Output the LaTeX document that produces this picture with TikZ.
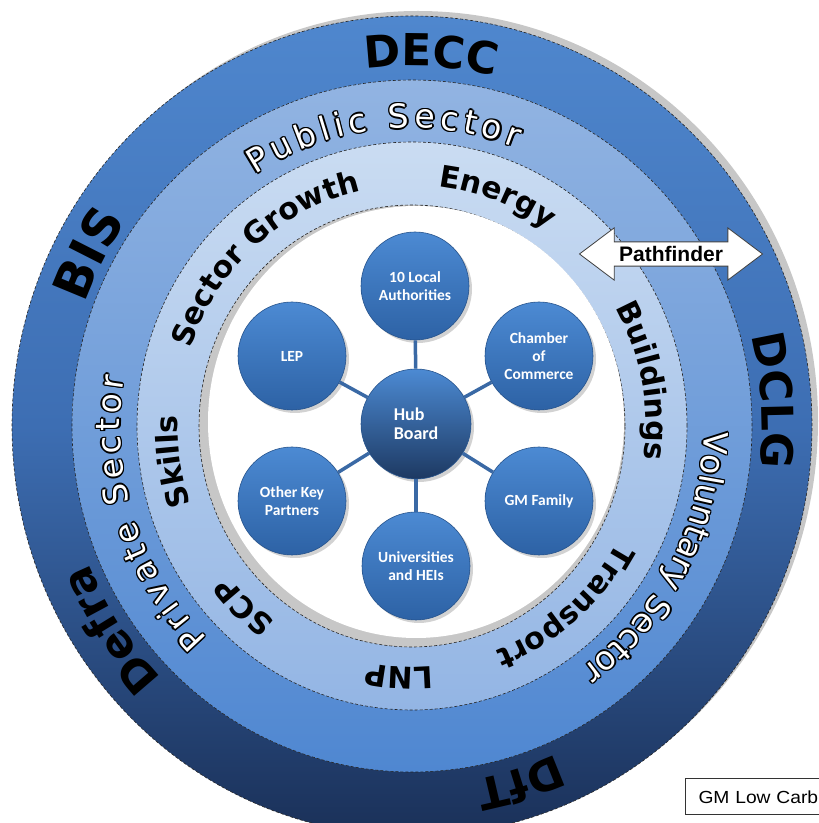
\documentclass[tikz,border=0pt]{standalone}
\usepackage{fontspec}
\setmainfont{Carlito}
\newfontfamily\ringfont{DejaVu Sans}
\newfontfamily\arialfont{Liberation Sans}
\newfontfamily\boxfont{Liberation Sans}[FakeStretch=1.1]
\usetikzlibrary{decorations.text,shapes.arrows,shadows,positioning}

\definecolor{outtop}{HTML}{4F87CE}
\definecolor{outmid}{HTML}{3D6EB3}
\definecolor{outbot}{HTML}{1A3058}
\definecolor{midtop}{HTML}{92B4E2}
\definecolor{midbot}{HTML}{4F87D1}
\definecolor{inntop}{HTML}{CADCF2}
\definecolor{innbot}{HTML}{93B5E4}
\definecolor{sattop}{HTML}{4C8AD3}
\definecolor{satbot}{HTML}{2D62A5}
\definecolor{hubbot}{HTML}{1D3962}
\definecolor{spoke}{HTML}{3A69A5}

\newcommand\outerfnt{\ringfont\bfseries\fontsize{44}{48}\selectfont}
\newcommand\bisfnt{\ringfont\bfseries\fontsize{50}{54}\selectfont}
\newcommand\innerfnt{\ringfont\bfseries\fontsize{30}{34}\selectfont}
\newcommand\sectfnt{\ringfont\fontsize{33}{36}\selectfont}

% text round the rings, clockwise: font, x radius, y radius, angle, text
\newcommand\ringlabel[5]{%
  \path[decorate,decoration={text along path,text align=center,text={|#1|#5}}]
    (cen) ++(#4+60:#2 and #3) arc[start angle=#4+60,end angle=#4-60,x radius=#2,y radius=#3];}
% white text with black edge: x radius, y radius, from, to, text
\newcommand\outlinelabel[5]{%
  \foreach \dx/\dy in {1.5/0,-1.5/0,0/1.5,0/-1.5,1.06/1.06,-1.06/1.06,1.06/-1.06,-1.06/-1.06}
    \path[decorate,decoration={text along path,text align=fit to path,text color=black,text={|\sectfnt|#5}}]
      ([shift={(\dx,\dy)}]cen) ++(#3:#1 and #2) arc[start angle=#3,end angle=#4,x radius=#1,y radius=#2];
  \path[decorate,decoration={text along path,text align=fit to path,text color=white,text={|\sectfnt|#5}}]
    (cen) ++(#3:#1 and #2) arc[start angle=#3,end angle=#4,x radius=#1,y radius=#2];}

\tikzset{
  ringline/.style={draw=black!85,densely dashed,line width=0.6pt},
  sat/.style={circle,minimum size=108pt,inner sep=0pt,top color=sattop,bottom color=satbot,
    draw=satbot!85!black,line width=0.6pt,text=white,align=center,
    font=\bfseries\fontsize{15.5}{18}\selectfont,
    drop shadow={opacity=0.35,shadow xshift=3pt,shadow yshift=-3pt}},
  hubnode/.style={sat,top color=sattop,bottom color=hubbot,minimum size=110pt,
    font=\bfseries\fontsize{18}{19}\selectfont,align=left},
  spokeline/.style={draw=spoke,line width=3.5pt},
  pathf/.style={double arrow,draw=black!75,fill=white,line width=0.8pt,
    font=\arialfont\bfseries\fontsize{21}{24}\selectfont,minimum height=183pt,
    double arrow head extend=14pt,double arrow tip angle=74,inner ysep=4pt,inner xsep=2pt},
  gmbox/.style={draw=black!80,line width=1pt,font=\boxfont\fontsize{17.5}{20}\selectfont,
    text width=160pt,align=left,inner xsep=13pt,minimum height=36pt,anchor=west}
}

\begin{document}
\begin{tikzpicture}[x=1pt,y=1pt]
        \useasboundingbox (0,0) rectangle (819,823);
        \coordinate (cen) at (412,397);
        % rings
        \fill[black!22] ([shift={(6,5)}]cen) ellipse[x radius=400,y radius=410];
        \draw[ringline,top color=outtop,bottom color=outbot,middle color=outmid] (cen) ellipse[x radius=400,y radius=410];
        \draw[ringline,top color=midtop,bottom color=midbot] (cen) ellipse[x radius=340,y radius=346];
        \draw[ringline,top color=inntop,bottom color=innbot] (cen) ellipse[x radius=275,y radius=284];
        \draw[ringline,fill=black!22] (cen) ellipse[x radius=213,y radius=221];
        \fill[white] ([shift={(4,4)}]cen) ellipse[x radius=208,y radius=216];
        % outer ring
        \ringlabel{\outerfnt}{350}{360}{87}{DECC}
        \ringlabel{\bisfnt}{348}{358}{152}{BIS}
        \ringlabel{\outerfnt}{350}{360}{4}{DCLG}
        \ringlabel{\outerfnt}{350}{360}{-73}{DfT}
        \ringlabel{\outerfnt}{350}{360}{214}{Defra}
        % middle ring
        \outlinelabel{292}{298}{122.5}{69}{Public Sector}
        \outlinelabel{292}{298}{225.5}{170.5}{Private Sector}
        \outlinelabel{292}{298}{-1}{-54.5}{Voluntary Sector}
        % inner ring
        \ringlabel{\innerfnt}{234}{241}{131.5}{Sector Growth}
        \ringlabel{\innerfnt}{234}{241}{69.5}{Energy}
        \ringlabel{\innerfnt}{234}{241}{11}{Buildings}
        \ringlabel{\innerfnt}{234}{241}{-49.5}{Transport}
        \ringlabel{\innerfnt}{234}{241}{-93}{LNP}
        \ringlabel{\innerfnt}{234}{241}{227}{SCP}
        \ringlabel{\innerfnt}{234}{241}{188.5}{Skills}
        % hub
        \node[hubnode] (hub) at (416,399) {Hub\\Board};
        \node[sat] (la) at (415,537) {10 Local\\Authorities};
        \node[sat] (cc) at (539,467) {Chamber\\of\\Commerce};
        \node[sat] (gm) at (539,322) {GM Family};
        \node[sat] (uni) at (416,257) {Universities\\and HEIs};
        \node[sat] (okp) at (292,322) {Other Key\\Partners};
        \node[sat] (lep) at (292,467) {LEP};
        \draw[spokeline] (hub) -- (la);
        \draw[spokeline] (hub) -- (cc);
        \draw[spokeline] (hub) -- (gm);
        \draw[spokeline] (hub) -- (uni);
        \draw[spokeline] (hub) -- (okp);
        \draw[spokeline] (hub) -- (lep);
        \node[pathf] (pf) at (671,569) {Pathfinder};
        \node[gmbox] (gmlc) at (685,26) {GM Low Carb};
\end{tikzpicture}
\end{document}
